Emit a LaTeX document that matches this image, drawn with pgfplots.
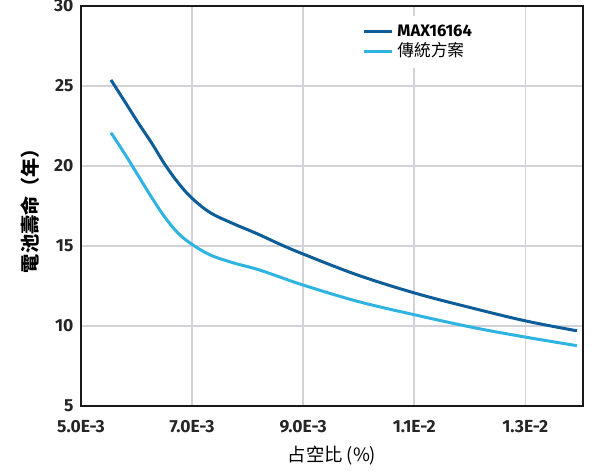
\documentclass[border=0pt]{standalone}
\usepackage{fontspec}
\setmainfont{Fira Sans}
\newfontfamily\cjk{Noto Sans CJK TC}
\usepackage{pgfplots}
\pgfplotsset{compat=1.18}
\definecolor{darkb}{HTML}{0D5E98}
\definecolor{lightb}{HTML}{2FB4E2}
\definecolor{gridc}{HTML}{D2D2DA}
\begin{document}
\begin{tikzpicture}
\begin{axis}[
  scale only axis, width=301.2pt, height=240pt,
  xmin=0.005, xmax=0.01404, ymin=5, ymax=30,
  scaled x ticks=false,
  xtick={0.005,0.007,0.009,0.011,0.013},
  xticklabels={5.0E-3,7.0E-3,9.0E-3,1.1E-2,1.3E-2},
  ytick={5,10,15,20,25,30},
  /pgf/number format/assume math mode=true,
  ticklabel style={font=\fontsize{10.5}{12}\selectfont\bfseries, text=black!85},
  xticklabel style={yshift=-5pt},
  yticklabel style={xshift=-1pt},
  major tick length=0pt,
  grid=major, major grid style={gridc, line width=0.9pt},
  axis line style={black!90, line width=1.2pt},
  xlabel={\cjk\fontsize{11}{13}\selectfont 占空比 (\%)},
  ylabel={\cjk\bfseries\fontsize{11.5}{13}\selectfont 電池壽命（年）},
  xlabel style={yshift=-1pt},
  ylabel style={yshift=2pt},
  legend style={at={(rel axis cs:0.55,0.975)}, anchor=north west, fill=white, draw=none,
    font=\fontsize{10}{11.5}\selectfont, row sep=-1.5pt, inner sep=3pt,
    /tikz/every even column/.append style={column sep=2pt}},
  legend cell align=left,
  legend image code/.code={\draw[#1, line width=2pt] (0pt,0pt) -- (17pt,0pt);},
]
\addplot[darkb, line width=1.8pt, smooth, tension=0.6] coordinates {
(0.00554,25.38) (0.00579,24.02) (0.00603,22.7) (0.00627,21.45) (0.00651,20.1)
(0.00675,18.95) (0.00698,18.05) (0.00732,17.1) (0.00774,16.4) (0.00817,15.77)
(0.00859,15.1) (0.00900,14.5) (0.00997,13.2) (0.01102,12.05) (0.01207,11.1)
(0.01303,10.3) (0.01393,9.7)};
\addlegendentry{\bfseries MAX16164}
\addplot[lightb, line width=1.8pt, smooth, tension=0.6] coordinates {
(0.00554,22.08) (0.00579,20.75) (0.00603,19.4) (0.00627,18.05) (0.00651,16.8)
(0.00675,15.8) (0.00698,15.15) (0.00732,14.45) (0.00774,13.95) (0.00817,13.55)
(0.00859,13.05) (0.00900,12.56) (0.00997,11.55) (0.01102,10.69) (0.01207,9.9)
(0.01303,9.29) (0.01393,8.77)};
\addlegendentry{\cjk 傳統方案}
\end{axis}
\pgfresetboundingbox
\useasboundingbox ([xshift=-48.6pt,yshift=-40.2pt]current axis.south west) rectangle ([xshift=10.2pt,yshift=3.6pt]current axis.north east);
\end{tikzpicture}
\end{document}
